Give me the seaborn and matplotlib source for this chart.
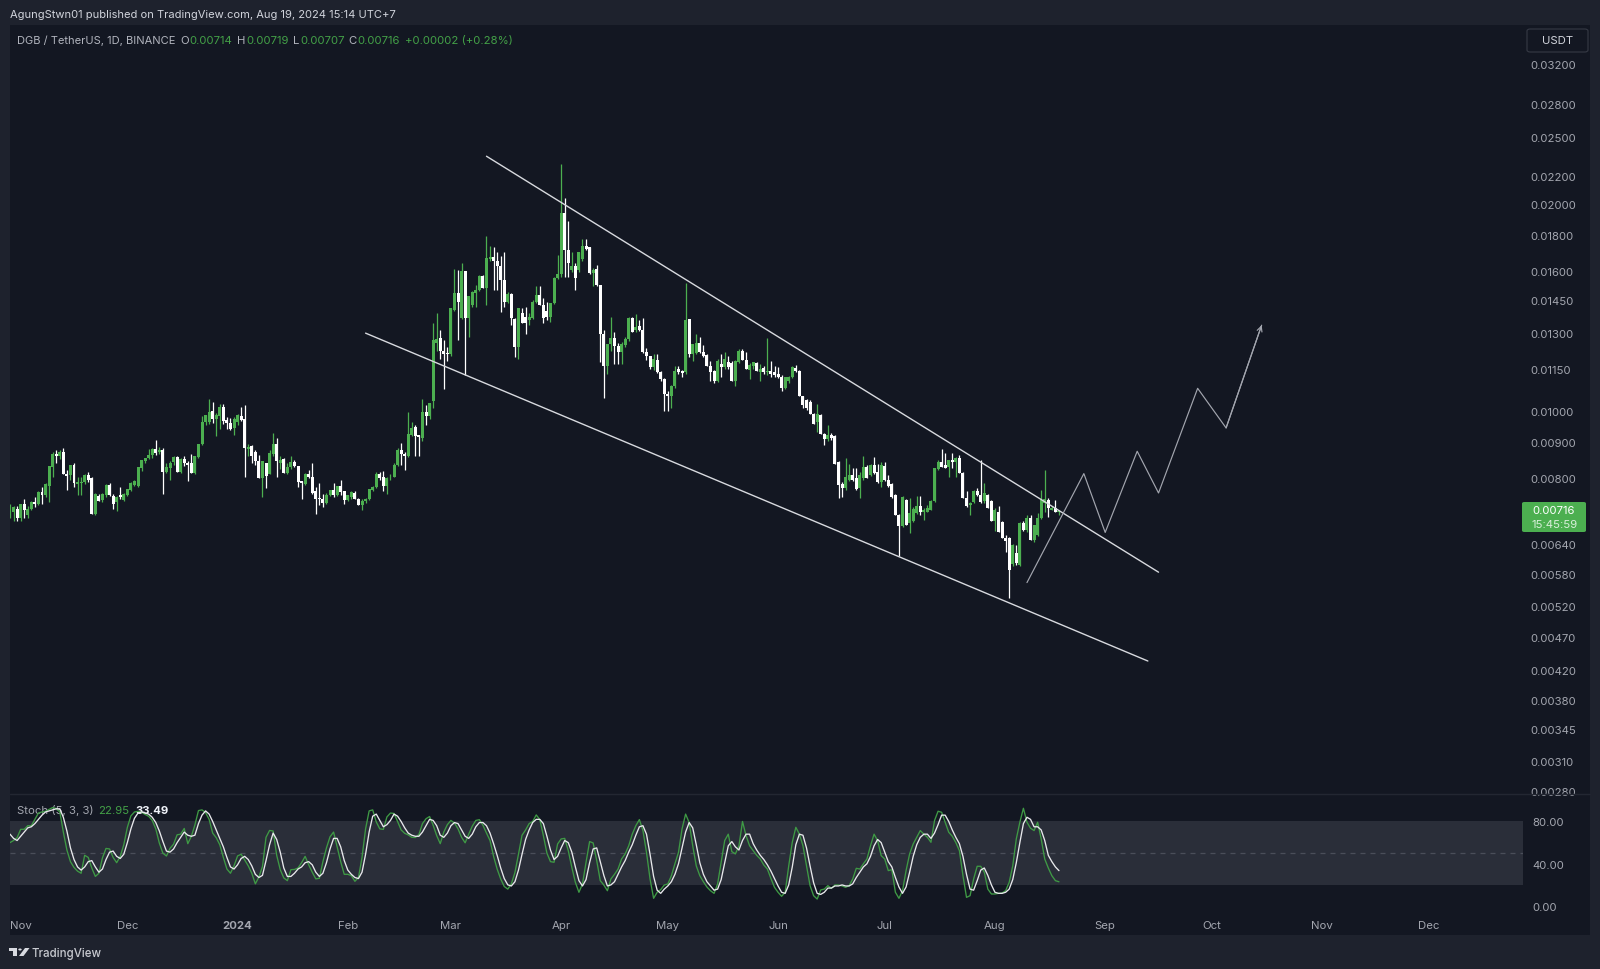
import numpy as np
import pandas as pd
import matplotlib
matplotlib.use('Agg')
import matplotlib.pyplot as plt
import seaborn as sns
from matplotlib.patches import Rectangle, FancyBboxPatch, Circle, Polygon
from matplotlib.ticker import NullLocator

# prices in 1e-5 USDT, daily candles from 2023-10-29 to 2024-08-19
opens = [
    713,713,721,700,733,705,721,737,733,762,
    754,779,830,867,859,873,809,808,834,783,
    785,789,808,798,709,752,742,754,780,752,
    737,754,742,754,767,781,778,826,845,855,
    863,881,871,879,816,826,843,857,814,851,
    840,839,812,857,894,963,963,1001,973,984,
    1014,970,960,946,963,985,973,881,889,873,
    845,798,839,809,867,894,839,852,812,830,
    843,832,791,783,809,803,764,747,746,735,
    754,767,754,778,764,742,750,760,746,729,
    740,744,768,775,809,801,777,801,803,834,
    879,867,861,922,947,922,915,996,983,
    1033,1257,1275,1224,1214,1211,1404,1484,1365,1596,
    1365,1428,1484,1501,1571,1510,1663,1673,1652,1626,
    1550,1443,1481,1362,1238,1387,1369,1357,1365,1443,
    1476,1428,1399,1372,1438,1561,1581,1938,1712,1602,
    1626,1601,1662,1739,1729,1586,1607,1527,1296,1163,
    1253,1279,1245,1218,1246,1274,1365,1311,1329,1311,
    1218,1204,1157,1187,1138,1113,1057,1051,1087,1151,
    1142,1138,1360,1211,1214,1256,1218,1208,1163,1145,
    1106,1170,1157,1180,1176,1104,1180,1224,1186,1146,
    1163,1173,1138,1154,1138,1144,1138,1131,1119,1081,
    1106,1119,1154,1144,1051,1039,
    1032,990,963,987,927,910,924,920,843,783,772,
    794,807,798,772,800,830,807,836,816,789,
    832,794,782,755,706,680,743,687,691,711,
    727,712,714,719,739,823,843,836,830,850,
    843,855,812,747,731,737,764,755,739,755,
    739,691,713,689,654,654,599,622,597,687,
    672,699,649,661,699,735,743,719,723,714,
]
highs = [
    733,727,727,733,744,727,740,750,766,776,
    787,832,871,878,878,884,821,836,840,802,
    802,809,814,801,760,758,760,783,785,758,
    752,775,760,770,789,795,830,850,855,882,
    884,909,886,884,839,847,861,860,855,859,
    845,865,861,896,985,987,1042,1030,994,1024,
    1024,979,976,979,989,1014,1020,896,891,878,
    863,845,839,879,929,915,860,855,839,859,
    850,832,791,812,821,839,776,785,758,760,
    768,785,779,793,766,756,764,764,748,744,
    748,770,779,814,814,819,801,809,839,884,
    899,873,996,963,953,924,1042,1019,1028,
    1341,1387,1311,1267,1238,1413,1607,1601,1644,1596,
    1469,1494,1525,1576,1579,1795,1739,1729,1701,1681,
    1701,1489,1487,1367,1413,1413,1416,1387,1448,1522,
    1522,1460,1440,1438,1566,1685,2290,2040,1892,1701,
    1642,1701,1780,1780,1734,1612,1632,1527,1311,1253,
    1372,1304,1255,1260,1280,1372,1369,1384,1357,1365,
    1234,1204,1210,1210,1142,1117,1071,1091,1163,1163,
    1148,1536,1363,1253,1293,1282,1246,1212,1183,1148,
    1190,1211,1218,1204,1183,1188,1229,1229,1218,1173,
    1178,1178,1170,1163,1275,1181,1163,1157,1129,1122,
    1125,1161,1168,1148,1053,1040,
    1036,995,1024,990,930,953,930,922,846,788,855,
    838,827,827,815,860,835,838,856,838,843,
    843,807,785,757,708,752,745,747,725,752,
    752,722,730,742,826,850,882,870,850,868,
    856,863,815,764,738,768,772,848,785,758,
    742,722,727,692,661,656,640,639,690,692,
    707,707,683,711,768,820,747,728,743,719,
]
lows = [
    700,693,692,693,700,700,717,725,729,733,
    750,737,803,839,853,809,767,793,776,755,
    755,783,789,709,707,739,737,750,752,721,
    715,746,740,752,764,778,775,818,839,851,
    855,863,865,758,812,793,836,814,812,832,
    791,812,810,855,892,953,958,962,920,941,
    958,942,940,922,953,966,802,860,839,836,
    798,750,772,809,860,803,824,812,809,824,
    830,776,744,781,798,758,709,731,724,733,
    752,750,752,754,733,740,746,744,729,717,
    735,742,766,772,795,764,758,793,801,832,
    834,821,857,919,859,859,904,953,973,
    1010,1224,1191,1075,1181,1204,1397,1270,1362,1129,
    1282,1418,1419,1497,1510,1428,1652,1501,1501,1395,
    1419,1438,1333,1197,1191,1341,1296,1336,1362,1438,
    1426,1344,1357,1348,1433,1556,1566,1566,1566,1591,
    1501,1591,1652,1714,1581,1518,1518,1177,1044,1131,
    1224,1170,1170,1170,1239,1265,1301,1304,1306,1214,
    1188,1153,1148,1137,1107,999,999,1010,1081,1132,
    1119,1132,1197,1183,1209,1214,1199,1163,1106,1100,
    1102,1119,1153,1153,1104,1087,1173,1186,1151,1112,
    1153,1142,1106,1132,1127,1119,1119,1117,1071,1076,
    1100,1117,1140,1051,1010,1005,
    990,958,932,927,892,905,908,838,747,751,768,
    790,790,768,747,795,798,804,810,786,776,
    790,775,747,706,615,678,683,665,689,709,
    705,695,712,717,737,820,828,825,802,825,
    802,812,747,725,707,735,752,735,736,722,
    693,669,667,654,623,535,596,597,595,670,
    668,650,645,658,697,714,701,717,712,707,
]
closes = [
    721,725,700,733,717,721,737,733,762,754,
    783,832,867,859,873,809,804,836,785,789,
    789,808,793,709,758,740,758,780,754,733,
    750,750,758,769,787,791,828,850,855,863,
    881,869,879,816,828,839,857,814,851,840,
    835,812,861,894,963,987,996,973,987,1014,
    968,960,943,975,987,971,884,886,861,845,
    798,845,805,869,894,845,850,812,830,843,
    832,789,785,809,801,760,744,746,735,756,
    767,754,778,762,742,754,762,746,731,740,
    746,769,776,809,799,778,798,803,836,879,
    867,859,925,944,920,917,996,983,1027,
    1270,1273,1224,1211,1209,1413,1484,1443,1596,1365,
    1468,1492,1501,1571,1510,1671,1673,1652,1626,1550,
    1443,1481,1365,1241,1413,1341,1341,1372,1443,1476,
    1428,1365,1372,1435,1561,1581,1938,1712,1642,1626,
    1561,1701,1739,1721,1588,1603,1527,1296,1163,1253,
    1279,1245,1218,1253,1274,1365,1304,1326,1311,1218,
    1204,1157,1190,1138,1113,1057,1051,1087,1144,1138,
    1134,1357,1211,1253,1256,1218,1204,1163,1138,1106,
    1183,1157,1190,1157,1104,1183,1224,1186,1151,1167,
    1177,1142,1151,1138,1144,1131,1129,1119,1081,1119,
    1122,1157,1144,1051,1021,1010,
    990,958,990,927,912,922,914,838,781,774,802,
    807,794,770,807,830,800,836,812,789,834,
    794,777,751,706,680,749,683,711,721,727,
    712,718,723,741,825,843,830,827,848,843,
    855,812,747,727,735,766,755,737,760,723,
    693,719,667,654,647,588,639,602,687,672,
    699,650,683,699,743,745,723,723,714,716,
]

# stochastic %K and %D, one value per candle
stoch_k = [
    60,62,64.7,72.6,72.6,76,76,82,88,89,
    89.7,91.5,93.2,92.2,89.2,70,53,42,36.5,33,
    31,48,46,36,28,31,45.6,54.5,54,46,
    41,47,58,74.4,85.3,89,89.6,88.7,86.7,84.9,
    81,73,59.5,50,47.3,54.6,58.5,67.4,68,73.4,
    59,66,76.7,90.3,91,88.4,82,69,64.6,58,
    46,35,31,38,47.4,49,43.6,38,31,21,
    27.5,37.4,65,71.5,71,48,34.4,26.6,24,34.4,
    34.6,36,41,47,39,32,25.7,26.2,42,55,
    65.5,70,56,42,30,30,28.7,23.4,27,46,
    73,90,91,79.6,73,72.5,84.3,88,87.6,80,
    72,68.8,67.3,65,64.8,67.7,78,82.6,84.7,76.5,
    66.6,59,70,77,81,78.5,73,65,59.8,68,
    75.5,81,81.7,76.5,69,62,47,35,25.6,18.5,
    16,21,31.7,49,67,72,78,
    80,86.2,81.8,66.6,50,42,41.4,58.7,63.5,64,52.4,
    36.6,22.4,13,20.9,41.4,61,59.7,43,24,19.9,
    14.5,25.6,30,35,44.5,49.3,57,68,76,81.8,71.4,
    50.8,25.6,7.3,13,15.5,19.9,20.9,28.7,40,50.8,73,
    87,79,57,38,28.7,23,18,14.5,12,20.9,41.4,
    62,68,51.5,49.3,57,80,66.6,57,52.4,48,44.5,
    38.8,35,26,17.7,13,9.2,13,38,60.3,74.5,68,
    57,38,19.3,9.8,6.6,15.2,16,19.3,16.8,19.9,19.9,19,
    17.7,19.3,25.6,35.7,35,40,44.5,57,68,61.9,47.7,
    44.5,33.5,34.4,13,7.3,14.5,33.5,49.3,58.7,65,71.4,
    68,65,60.3,80.8,89.7,88.7,79.3,69.8,66,60,52.4,
    28.7,8.2,9.8,25.6,37.6,37.6,32,16,11.4,11.4,12,12.3,
    14.5,22.4,38,63.5,79.3,92.5,79.3,73.6,71.4,79.3,63.5,44.5,
    36,28.7,24,22.95,
]
stoch_d = [
    68,64,62,66,70,74,75,78,82,86,
    89,90,91,92,92,84,71,55,44,37,
    34,37,42,43,37,32,35,44,51,52,
    47,45,49,60,73,83,88,89,88,87,
    84,79,71,61,52,51,54,60,65,70,
    67,66,67,78,86,90,87,80,72,64,
    56,46,37,35,39,45,47,44,38,30,
    27,29,43,58,69,63,51,36,28,28,
    31,35,37,41,42,39,32,28,31,41,
    54,64,64,56,43,34,30,27,26,32,
    49,70,85,87,81,75,77,81,87,85,
    80,74,69,67,66,66,70,76,82,81,
    76,67,65,69,76,79,78,72,66,64,
    68,75,79,79,76,69,59,48,36,26,
    20,19,23,34,49,63,72,
    79,82,82,78,66,53,44,47,55,62,60,
    51,37,24,19,25,41,54,55,42,29,
    19,20,23,30,37,43,51,58,67,75,76,
    68,49,28,15,12,16,19,23,30,40,55,
    70,79,74,58,41,30,23,19,15,16,25,
    41,57,61,56,53,62,68,68,59,53,48,
    44,39,33,26,19,13,12,20,37,58,68,
    67,55,38,22,12,11,13,17,17,19,19,20,
    19,19,21,27,32,37,40,47,57,63,60,
    51,42,37,27,18,12,18,32,47,58,65,
    68,68,64,69,77,86,86,80,72,65,59,
    47,30,16,15,24,34,36,29,20,13,12,12,
    13,16,25,41,60,78,84,82,75,75,72,62,
    48,42,37,33.49,
]

price_ticks = [3200,2800,2500,2200,2000,1800,1600,1450,1300,1150,1000,900,800,
               640,580,520,470,420,380,345,310,280]
stoch_ticks = [80,40,0]
month_ticks = ['2023-11-01','2023-12-01','2024-01-01','2024-02-01','2024-03-01','2024-04-01','2024-05-01',
               '2024-06-01','2024-07-01','2024-08-01','2024-09-01','2024-10-01','2024-11-01','2024-12-01']
month_labels = ['Nov','Dec','2024','Feb','Mar','Apr','May','Jun','Jul','Aug','Sep','Oct','Nov','Dec']

# drawings on the chart
upper_dates = ['2024-03-11','2024-09-16']
upper_prices = [2347,583]
lower_dates = ['2024-02-06','2024-09-13']
lower_prices = [1298,433]
path_dates = ['2024-08-10','2024-08-26','2024-09-01','2024-09-10','2024-09-16','2024-09-27','2024-10-05','2024-10-15']
path_prices = [563,811,666,874,760,1079,945,1333]

BG = '#131722'
OUTER = '#1e222d'
GREEN = '#4caf50'
TICK = '#a3a6af'

sns.set_theme(style='dark', rc={'axes.facecolor': BG, 'figure.facecolor': OUTER})
plt.rcParams['font.family'] = ['Inter', 'DejaVu Sans']

W, H = 1600, 970
fig = plt.figure(figsize=(16, 9.7), dpi=100)

def fx(x):
    return x / W

def fy(y):
    return 1 - y / H

def label(x, y, s, color=TICK, size=8.0, **kw):
    fig.text(fx(x), fy(y), s, color=color, fontsize=size, va='center', **kw)

fig.add_artist(Rectangle((fx(10), fy(936)), 1580 / W, 910 / H, transform=fig.transFigure, fc=BG, ec='none', zorder=-1))

ax = fig.add_axes([fx(10), fy(795), 1513 / W, 769 / H])
ax2 = fig.add_axes([fx(10), fy(912), 1513 / W, 117 / H])

dates = pd.date_range(end='2024-08-19', periods=len(closes))
o = np.array(opens) / 1e5
h = np.array(highs) / 1e5
l = np.array(lows) / 1e5
c = np.array(closes) / 1e5
colors = [GREEN if a >= b else '#ffffff' for a, b in zip(c, o)]

ax.set_yscale('log')
ax.vlines(dates, l, h, colors=colors, linewidth=0.9, zorder=2)
ax.bar(dates, np.abs(c - o), bottom=np.minimum(c, o), width=0.84, color=colors, linewidth=0, zorder=3)

sns.lineplot(x=pd.to_datetime(upper_dates), y=np.array(upper_prices) / 1e5, ax=ax, color='#d8dadf', linewidth=1.0, zorder=4)
sns.lineplot(x=pd.to_datetime(lower_dates), y=np.array(lower_prices) / 1e5, ax=ax, color='#d8dadf', linewidth=1.0, zorder=4)
sns.lineplot(x=pd.to_datetime(path_dates), y=np.array(path_prices) / 1e5, ax=ax, color='#a3a6af', linewidth=0.85,
             sort=False, estimator=None, zorder=4)
ax.annotate('', xy=(pd.Timestamp(path_dates[-1]), path_prices[-1] / 1e5),
            xytext=(pd.Timestamp(path_dates[-2]), path_prices[-2] / 1e5),
            arrowprops=dict(arrowstyle='->', color='#a3a6af', lw=0.85, shrinkA=0, shrinkB=0, mutation_scale=9), zorder=4)

xlim = (pd.Timestamp('2023-10-29 00:00'), pd.Timestamp('2024-12-27 12:00'))
ax.set_xlim(xlim)
ax.set_ylim(0.002774, 0.03642)
ax.yaxis.tick_right()
ax.set_yticks([t / 1e5 for t in price_ticks])
ax.set_yticklabels([f'{t / 1e5:.5f}' for t in price_ticks])
ax.yaxis.set_minor_locator(NullLocator())
ax.set_xticks([])
ax.tick_params(axis='y', length=0, pad=5.5, labelsize=8.2, labelcolor=TICK)

# stochastic pane
ax2.axhspan(20, 80, color='#2a2e39', linewidth=0, zorder=0)
ax2.axhline(50, color='#4a4e59', linewidth=0.9, dashes=(4, 4), zorder=1)
ax2.text(fx(17), fy(811), 'Stoch (5, 3, 3)', transform=fig.transFigure, color=TICK, fontsize=8.2, va='center', zorder=1)
ax2.text(fx(98), fy(811), '22.95', transform=fig.transFigure, color='#43a047', fontsize=8.2, va='center', zorder=1)
ax2.text(fx(135), fy(811), '33.49', transform=fig.transFigure, color='#f0f3fa', fontsize=8.2, va='center',
         fontweight='bold', zorder=1)
sns.lineplot(x=dates, y=stoch_k, ax=ax2, color='#3f9a45', linewidth=0.95, zorder=3)
sns.lineplot(x=dates, y=stoch_d, ax=ax2, color='#e8e9ec', linewidth=0.95, zorder=4)
ax2.set_xlim(xlim)
ax2.set_ylim(-4.7, 106)
ax2.yaxis.tick_right()
ax2.set_yticks(stoch_ticks)
ax2.set_yticklabels([f'{t:.2f}' for t in stoch_ticks])
ax2.set_xticks(pd.to_datetime(month_ticks))
ax2.set_xticklabels(month_labels)
ax2.get_xticklabels()[2].set_fontweight('bold')
ax2.tick_params(axis='y', length=0, pad=7, labelsize=8.2, labelcolor=TICK)
ax2.tick_params(axis='x', length=0, pad=6.8, labelsize=8.2, labelcolor=TICK)

for a in (ax, ax2):
    a.set_xlabel('')
    a.set_ylabel('')
    a.grid(False)
    a.patch.set_alpha(0)
    for s in a.spines.values():
        s.set_visible(False)

# pane divider
fig.add_artist(plt.Line2D([fx(10), fx(1590)], [fy(795), fy(795)], color='#232732', linewidth=1))

# header and legend text
label(10, 15, 'AgungStwn01 published on TradingView.com, Aug 19, 2024 15:14 UTC+7', color='#d1d4dc')
label(17, 41, 'DGB / TetherUS, 1D, BINANCE', color='#b2b5be', size=8.0)
for x, s in [(180, 'O'), (237, 'H'), (293, 'L'), (348, 'C')]:
    label(x, 41, s, color='#b2b5be', size=8.2)
for x, s in [(189, '0.00714'), (246, '0.00719'), (300, '0.00707'), (357, '0.00716'), (405, '+0.00002 (+0.28%)')]:
    label(x, 41, s, color='#43a047', size=8.2)

# currency button and last price badge
fig.add_artist(FancyBboxPatch((fx(1527), fy(53)), 61 / W, 23 / H, boxstyle='round,pad=0,rounding_size=0.002',
                              transform=fig.transFigure, fc=BG, ec='#363a45', lw=0.8))
label(1557.5, 41.5, 'USDT', color='#d1d4dc', ha='center', size=8.2)
fig.add_artist(FancyBboxPatch((fx(1522), fy(533)), 64 / W, 30 / H, boxstyle='round,pad=0,rounding_size=0.0015',
                              transform=fig.transFigure, fc=GREEN, ec='none'))
label(1532, 511.5, '0.00716', color='#ffffff', size=8.2)
label(1532, 525, '15:45:59', color='#d9efda', size=8.2)

# footer logo
logo = '#d8dae0'
fig.add_artist(Rectangle((fx(9), fy(952)), 8 / W, 3 / H, transform=fig.transFigure, fc=logo, ec='none'))
fig.add_artist(Rectangle((fx(13), fy(957)), 4 / W, 8 / H, transform=fig.transFigure, fc=logo, ec='none'))
fig.add_artist(Circle((fx(20), fy(950.5)), 1.7 / W, transform=fig.transFigure, fc=logo, ec='none'))
fig.add_artist(Polygon([(fx(19), fy(957)), (fx(25), fy(949)), (fx(29.5), fy(949)), (fx(23.5), fy(957))],
                       transform=fig.transFigure, fc=logo, ec='none'))
label(32, 954.5, 'TradingView', color='#c8cad0', size=8.3, fontweight='medium')

fig.savefig('out.png', dpi=100, facecolor=fig.get_facecolor())
